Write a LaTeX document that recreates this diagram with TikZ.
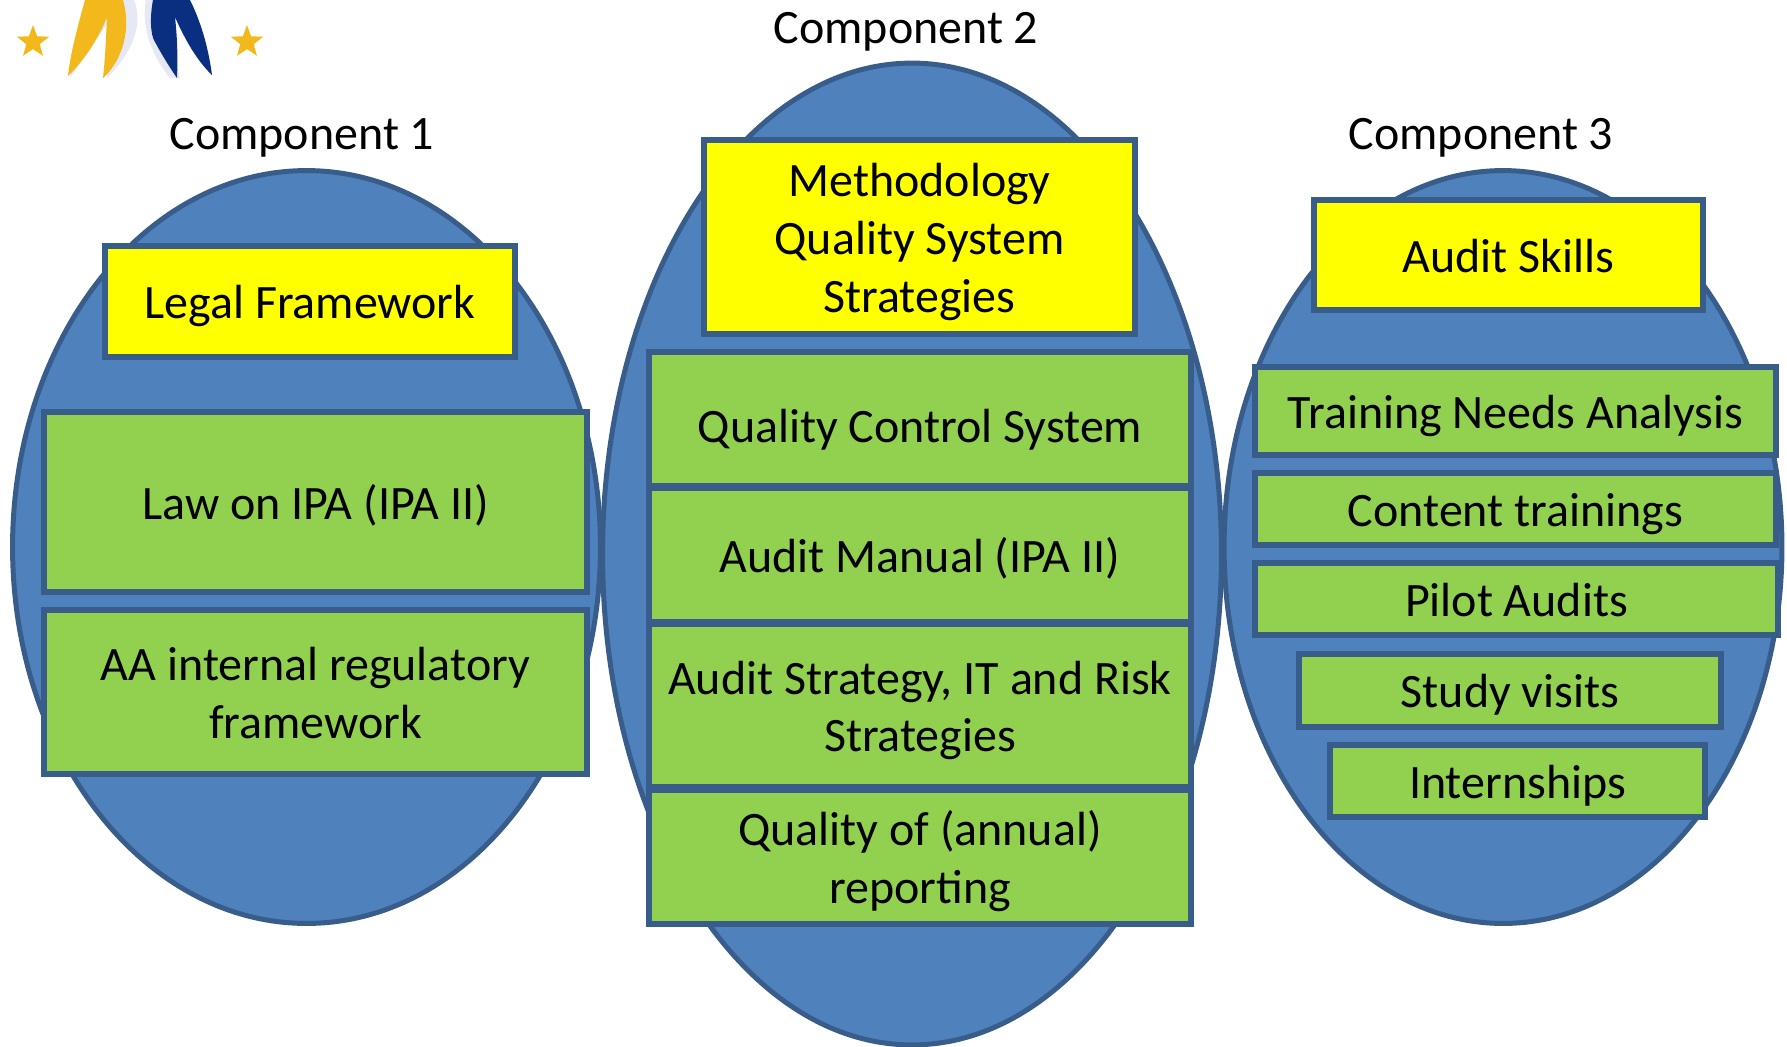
\documentclass[tikz,border=0pt]{standalone}
\usepackage{fontspec}
\setmainfont{Carlito}
\usetikzlibrary{shapes.geometric}
\definecolor{blobblue}{HTML}{4F81BD}
\definecolor{edgeblue}{HTML}{385D8A}
\definecolor{boxgreen}{HTML}{92D050}
\definecolor{goalyellow}{HTML}{FFFF00}
\definecolor{logogold}{HTML}{F2B81C}
\definecolor{logonavy}{HTML}{0B2F80}
\definecolor{logoshade}{HTML}{E6E9F5}
\newcommand{\topstrut}{\rule{0pt}{1.05em}}
\newcommand{\bottomstrut}{\rule[-0.325em]{0pt}{0.325em}}
\tikzset{%
	every component/.style={
		ellipse,
		draw=edgeblue,
		fill=blobblue,
		line width=0.1cm,
		inner sep=0pt
	},
	topic/.style={
		rectangle,
		draw=edgeblue,
		line width=0.11cm,
		inner sep=0pt,
		align=center,
		font=\fontsize{27.3}{32.8}\selectfont,
		execute at begin node=\topstrut,
		execute at end node=\bottomstrut
	},
	goal/.style={topic, fill=goalyellow},
	task/.style={topic, fill=boxgreen},
	title/.style={font=\fontsize{27.3}{32.8}\selectfont},
	logostar/.style={
		star,
		star points=5,
		star point ratio=2.4,
		fill=logogold,
		inner sep=0pt,
		minimum size=0.68cm
	},
}
\begin{document}
\begin{tikzpicture}[x=0.02cm,y=-0.02cm]
	\useasboundingbox (0,0) rectangle (1787,1046);

	% Draw the logo
	\fill[logoshade] (90,0) .. controls (80,30) and (72,55) .. (70,78) -- (110,20) -- (107,78)
		.. controls (125,60) and (146,30) .. (134,0) -- cycle;
	\fill[logoshade] (146,0) .. controls (140,30) and (155,60) .. (170,78) -- (180,78) -- (155,0) -- cycle;
	\fill[logogold] (85,0) .. controls (78,25) and (70,55) .. (68,76) .. controls (85,60) and (100,35) .. (107,17)
		.. controls (106,40) and (105,60) .. (103,78) .. controls (118,65) and (133,35) .. (123,0) -- cycle;
	\fill[logonavy] (153,0) .. controls (150,15) and (150,35) .. (155,42) .. controls (162,55) and (170,68) .. (177,78)
		.. controls (178,55) and (177,35) .. (175,17) .. controls (185,40) and (198,62) .. (212,75)
		.. controls (208,45) and (200,20) .. (190,0) -- cycle;
	\node[logostar] (leftstar) at (33,42) {};
	\node[logostar] (rightstar) at (247,42) {};

	% Draw the three ellipses
	\node[every component, minimum width=11.76cm, minimum height=15.06cm] (comp1) at (306.5,547) {};
	\node[every component, minimum width=12.38cm, minimum height=19.64cm] (comp2) at (912,554) {};
	\node[every component, minimum width=11.16cm, minimum height=15.06cm] (comp3) at (1503,547) {};

	% Draw the titles
	\node[title] (title1) at (302,137.5) {Component 1};
	\node[title] (title2) at (906,31.5) {Component 2};
	\node[title] (title3) at (1481,137.5) {Component 3};

	% Draw the first column
	\node[goal, minimum width=8.2cm, minimum height=2.22cm] (legal) at (310,301.5) {Legal Framework};
	\node[task, minimum width=10.86cm, minimum height=3.6cm] (law) at (315.5,502) {Law on IPA (IPA II)};
	\node[task, minimum width=10.86cm, minimum height=3.28cm] (internal) at (315.5,692) {\topstrut AA internal regulatory\\framework};

	% Draw the second column
	\node[goal, minimum width=8.62cm, minimum height=3.88cm] (method) at (919.5,237) {\topstrut Methodology\\Quality System\\Strategies};
	\node[task, minimum width=10.84cm, minimum height=2.68cm] (control) at (920,419) {\rule{0pt}{1.29em}Quality Control System};
	\node[task, minimum width=10.84cm, minimum height=2.68cm] (manual) at (920,555) {Audit Manual (IPA II)};
	\node[task, minimum width=10.84cm, minimum height=3.26cm] (strategy) at (920,705.5) {\topstrut Audit Strategy, IT and Risk\\Strategies};
	\node[task, minimum width=10.84cm, minimum height=2.68cm] (reporting) at (920,857) {\topstrut Quality of (annual)\\reporting};

	% Draw the third column
	\node[goal, minimum width=7.78cm, minimum height=2.2cm] (skills) at (1508.5,255) {Audit Skills};
	\node[task, minimum width=10.42cm, minimum height=1.76cm] (needs) at (1515.5,411) {Training Needs Analysis};
	\node[task, minimum width=10.42cm, minimum height=1.44cm] (content) at (1515.5,509) {Content trainings};
	\node[task, minimum width=10.46cm, minimum height=1.44cm] (pilot) at (1516.5,599) {Pilot Audits};
	\node[task, minimum width=8.44cm, minimum height=1.46cm] (visits) at (1510,690.5) {Study visits};
	\node[task, minimum width=7.5cm, minimum height=1.44cm] (intern) at (1517.5,781) {Internships};
\end{tikzpicture}
\end{document}
